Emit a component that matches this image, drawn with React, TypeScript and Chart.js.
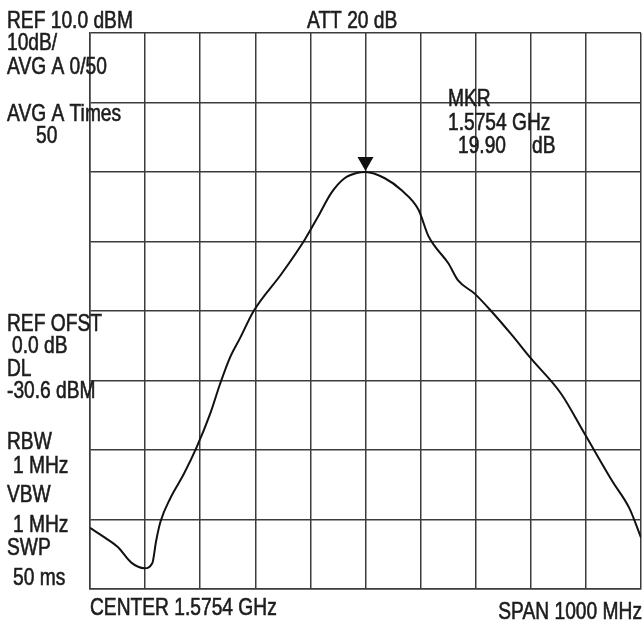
import React, { useEffect, useRef } from "react";
import { Chart, registerables } from "chart.js";

Chart.register(...registerables);

// Frequency offset from centre (MHz), span 1000 MHz centred on 1.5754 GHz
const freqOffsetMHz = [
  -500, -473, -449, -425, -401, -387, -380, -372, -354, -330, -307, -282, -264, -246, -227, -203,
  -152, -110, -86, -62, -38, -14, 0, 35, 65, 96, 114, 126, 150, 168, 198, 228, 264, 301,
  355, 398, 448, 479, 500,
];
// Trace level (dBm), REF 10 dBm, 10 dB/div
const levelDbm = [
  -61.2, -62.6, -64.0, -66.2, -67.0, -66.3, -63.1, -60.3, -56.9, -53.5, -49.7, -44.8, -40.5, -36.7, -33.8, -30.0,
  -24.6, -19.7, -16.4, -13.0, -10.9, -10.1, -10.0, -10.9, -12.6, -15.4, -19.2, -20.7, -23.1, -25.6, -27.5,
  -30.0, -33.3, -36.9, -41.9, -47.7, -54.5, -58.4, -62.6,
];

const refLevel = 10;
const dbPerDiv = 10;
const yDivs = 8;
const spanMHz = 1000;
const xDivs = 10;

const markerFreq = [0];
const markerLevel = [-10.0];

const topLabels = ["REF 10.0 dBM", "ATT 20 dB"];
const leftLabels = [
  "10dB/",
  "AVG A 0/50",
  "AVG A Times",
  "50",
  "REF OFST",
  "0.0 dB",
  "DL",
  "-30.6 dBM",
  "RBW",
  "1 MHz",
  "VBW",
  "1 MHz",
  "SWP",
  "50 ms",
];
const markerLabels = ["MKR", "1.5754 GHz", "19.90", "dB"];
const bottomLabels = ["CENTER 1.5754 GHz", "SPAN 1000 MHz"];

const FONT = "'Liberation Sans', Arial, sans-serif";
const SQUEEZE = 0.8;
const INK = "#1c1c1c";
const GRID = "#3c3c3c";

const textPlugin = {
  id: "analyzerText",
  afterDraw(chart: any) {
    const ctx = chart.ctx as CanvasRenderingContext2D;
    const xs = chart.scales.x;
    const ys = chart.scales.y;
    ctx.save();
    ctx.fillStyle = INK;
    ctx.strokeStyle = INK;
    ctx.lineWidth = 0.6;
    ctx.textBaseline = "alphabetic";
    ctx.textAlign = "left";
    ctx.font = `24px ${FONT}`;
    const put = (t: string, x: number, y: number, right = false) => {
      const w = ctx.measureText(t).width * SQUEEZE;
      ctx.save();
      ctx.translate(right ? x - w : x, y);
      ctx.scale(SQUEEZE, 1);
      ctx.fillText(t, 0, 0);
      ctx.strokeText(t, 0, 0);
      ctx.restore();
    };
    put(topLabels[0], 7, 28);
    put(topLabels[1], 307, 28);
    const leftPos: [number, number][] = [
      [7, 50],
      [7, 74],
      [7, 121],
      [36, 143],
      [7, 331],
      [12, 353],
      [7, 376],
      [7, 398],
      [7, 449],
      [13, 473],
      [7, 502],
      [13, 532],
      [7, 555],
      [13, 585],
    ];
    leftLabels.forEach((t, i) => put(t, leftPos[i][0], leftPos[i][1]));
    put(markerLabels[0], 448, 106);
    put(markerLabels[1], 448, 130);
    put(markerLabels[2], 458, 153);
    put(markerLabels[3], 532, 153);
    put(bottomLabels[0], 90, 615);
    put(bottomLabels[1], 642, 619, true);

    // marker triangle
    const mx = xs.getPixelForValue(markerFreq[0]);
    const my = ys.getPixelForValue(markerLevel[0]);
    ctx.fillStyle = "#111111";
    ctx.beginPath();
    ctx.moveTo(mx - 8, my - 15);
    ctx.lineTo(mx + 8, my - 15);
    ctx.lineTo(mx, my - 1);
    ctx.closePath();
    ctx.fill();
    ctx.restore();
  },
};

export default function App() {
  const ref = useRef<HTMLCanvasElement>(null);
  useEffect(() => {
    if (!ref.current) return;
    const chart = new Chart(ref.current, {
      type: "line",
      data: {
        datasets: [
          {
            label: "Trace A",
            data: freqOffsetMHz.map((f, i) => ({ x: f, y: levelDbm[i] })),
            borderColor: "#111111",
            borderWidth: 2,
            pointRadius: 0,
            cubicInterpolationMode: "monotone",
            fill: false,
          },
        ],
      },
      options: {
        responsive: false,
        animation: false,
        events: [],
        layout: { padding: { left: 90, top: 33, right: 3, bottom: 35 } },
        plugins: { legend: { display: false }, tooltip: { enabled: false }, title: { display: false } },
        scales: {
          x: {
            type: "linear",
            min: -spanMHz / 2,
            max: spanMHz / 2,
            ticks: { display: false, stepSize: spanMHz / xDivs },
            grid: { color: GRID, lineWidth: 1.5, drawTicks: false },
            border: { display: true, color: GRID, width: 1.5 },
          },
          y: {
            type: "linear",
            min: refLevel - dbPerDiv * yDivs,
            max: refLevel,
            ticks: { display: false, stepSize: dbPerDiv },
            grid: { color: GRID, lineWidth: 1.5, drawTicks: false },
            border: { display: true, color: GRID, width: 1.5 },
          },
        },
      },
      plugins: [textPlugin],
    });
    return () => chart.destroy();
  }, []);
  return (
    <div style={{ position: "fixed", left: 0, top: 0, width: 644, height: 624, background: "#ffffff" }}>
      <canvas ref={ref} width={644} height={624} style={{ width: 644, height: 624, display: "block" }} />
    </div>
  );
}
